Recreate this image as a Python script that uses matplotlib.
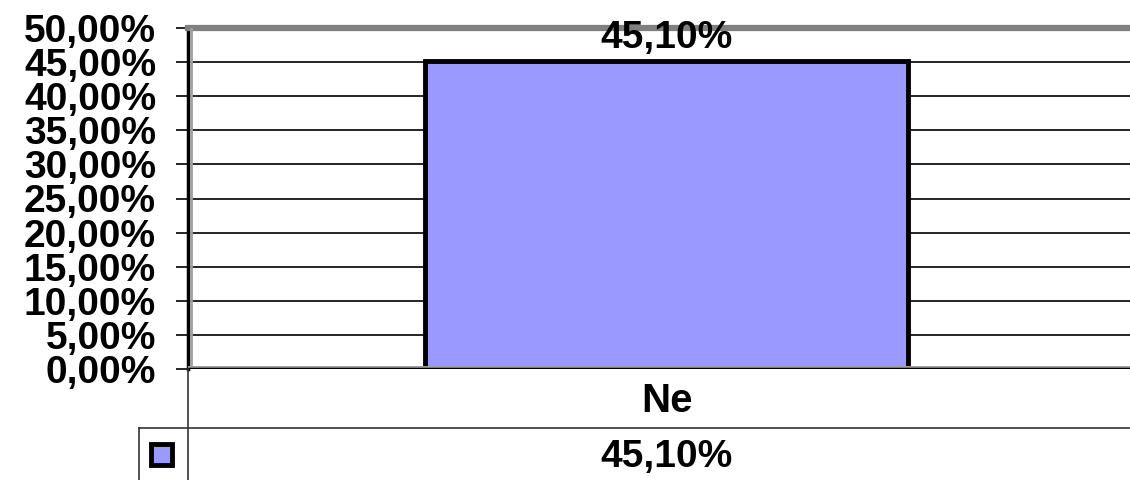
import matplotlib.pyplot as plt
import matplotlib.transforms as mtransforms
from matplotlib.lines import Line2D
from matplotlib.patches import Rectangle

categories = ['Ne']
values = [45.10]
y_ticks = [0, 5, 10, 15, 20, 25, 30, 35, 40, 45, 50]

bar_color = '#9999FF'
W, H = 1130, 480

def pct(v):
    return f'{v:.2f}'.replace('.', ',') + '%'

plt.rcParams['font.family'] = ['Liberation Sans', 'DejaVu Sans']
plt.rcParams['font.weight'] = 'bold'

fig = plt.figure(figsize=(W / 100, H / 100), dpi=100)
# plot area in pixels: left 188, right 1130, top 28, bottom 369
ax = fig.add_axes([188 / W, (H - 369) / H, 942 / W, (369 - 28) / H])

ax.bar(range(len(categories)), values, width=0.513, color=bar_color,
       edgecolor='black', linewidth=3.5, zorder=3)
for i, v in enumerate(values):
    ax.text(i, v + 2.0, pct(v), ha='center', va='baseline', fontsize=28,
            fontweight='bold')

ax.set_xlim(-0.508, 0.492)
ax.set_ylim(0, 50)
ax.set_yticks(y_ticks)
ax.set_yticklabels([pct(t) for t in y_ticks], fontsize=28, fontweight='bold')
ax.set_xticks([])
ax.yaxis.grid(True, color='black', linewidth=1.2, zorder=0)
ax.set_axisbelow(True)
ax.tick_params(axis='y', length=9, width=1.2, direction='out', pad=14)

for s in ['right', 'bottom']:
    ax.spines[s].set_visible(False)
ax.spines['top'].set_color('#808080')
ax.spines['top'].set_linewidth(4.5)
ax.spines['left'].set_color('black')
ax.spines['left'].set_linewidth(2.5)

# grey shadow next to the left axis
ax.axvline(-0.505, color='#a0a0a0', linewidth=2, zorder=4)

# bottom axis line with grey shadow
ax.axhline(0, color='#a0a0a0', linewidth=5, zorder=4)
ax.axhline(0, color='black', linewidth=2.5, zorder=5)

# data table below the plot
def fx(px):
    return px / W

def fy(py):
    return 1 - py / H

lines = [
    ((188, 188), (369, 480)),
    ((139, 1130), (428, 428)),
    ((139, 139), (428, 480)),
]
for xs, ys in lines:
    fig.add_artist(Line2D([fx(x) for x in xs], [fy(y) for y in ys],
                          color='#333333', linewidth=1.2))

trans = mtransforms.blended_transform_factory(ax.transData, fig.transFigure)
for i, c in enumerate(categories):
    ax.text(i, fy(412), c, transform=trans, ha='center', va='baseline',
            fontsize=29, fontweight='bold', clip_on=False)
    ax.text(i, fy(467), pct(values[i]), transform=trans, ha='center',
            va='baseline', fontsize=28, fontweight='bold', clip_on=False)

# legend key
fig.add_artist(Rectangle((fx(151), fy(465)), 21 / W, 21 / H,
                         transform=fig.transFigure, facecolor=bar_color,
                         edgecolor='black', linewidth=3.5))

fig.savefig('out.png', dpi=100)
